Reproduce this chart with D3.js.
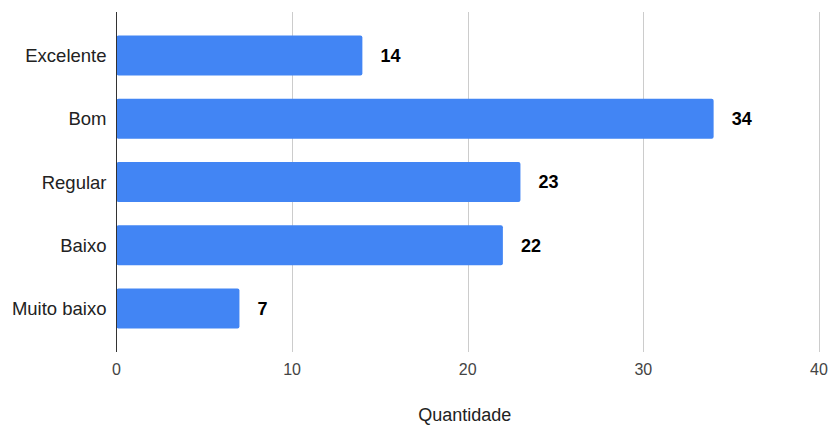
<!DOCTYPE html>
<html>
<head>
<meta charset="utf-8">
<script src="https://cdn.jsdelivr.net/npm/d3@7"></script>
<style>
  html, body { margin: 0; padding: 0; background: #fff; }
  svg { display: block; font-family: Arial, "Liberation Sans", sans-serif; }
</style>
</head>
<body>
<svg id="chart" width="829" height="426"></svg>
<script>
const categories = ["Excelente", "Bom", "Regular", "Baixo", "Muito baixo"];
const values = [14, 34, 23, 22, 7];
const xTicks = [0, 10, 20, 30, 40];
const xTitle = "Quantidade";

const svg = d3.select("#chart");
const plot = { left: 116.5, right: 819, top: 12, bottom: 352 };

const x = d3.scaleLinear().domain([0, 40]).range([plot.left, plot.right]);
const y = d3.scaleBand().domain(categories)
  .range([plot.top, plot.bottom]).paddingInner(0.368).paddingOuter(0.37);

// vertical gridlines
svg.append("g").selectAll("line")
  .data(xTicks.filter(t => t > 0))
  .join("line")
  .attr("x1", d => Math.round(x(d)) + 0.5).attr("x2", d => Math.round(x(d)) + 0.5)
  .attr("y1", plot.top).attr("y2", plot.bottom)
  .attr("stroke", "#cccccc").attr("stroke-width", 1);

// bars
svg.append("g").selectAll("rect")
  .data(categories)
  .join("rect")
  .attr("x", x(0))
  .attr("y", d => y(d))
  .attr("width", (d, i) => x(values[i]) - x(0))
  .attr("height", y.bandwidth())
  .attr("rx", 2).attr("ry", 2)
  .attr("fill", "#4285f4");

// zero baseline
svg.append("line")
  .attr("x1", x(0)).attr("x2", x(0))
  .attr("y1", plot.top).attr("y2", plot.bottom)
  .attr("stroke", "#333333").attr("stroke-width", 1);

// value labels
svg.append("g").selectAll("text")
  .data(categories)
  .join("text")
  .attr("x", (d, i) => x(values[i]) + 18)
  .attr("y", d => y(d) + y.bandwidth() / 2)
  .attr("dy", "0.36em")
  .attr("font-size", 18).attr("font-weight", "bold")
  .attr("fill", "#000")
  .text((d, i) => values[i]);

// category labels
svg.append("g").selectAll("text")
  .data(categories)
  .join("text")
  .attr("x", 106.5)
  .attr("y", d => y(d) + y.bandwidth() / 2)
  .attr("dy", "0.36em")
  .attr("text-anchor", "end")
  .attr("font-size", 18.5)
  .attr("fill", "#222222")
  .text(d => d);

// x tick labels
svg.append("g").selectAll("text")
  .data(xTicks)
  .join("text")
  .attr("x", d => x(d))
  .attr("y", 374.5)
  .attr("text-anchor", "middle")
  .attr("font-size", 16)
  .attr("fill", "#444444")
  .text(d => d);

// axis title
svg.append("text")
  .attr("x", (plot.left + plot.right) / 2 - 3)
  .attr("y", 421)
  .attr("text-anchor", "middle")
  .attr("font-size", 18)
  .attr("fill", "#222222")
  .text(xTitle);
</script>
</body>
</html>
